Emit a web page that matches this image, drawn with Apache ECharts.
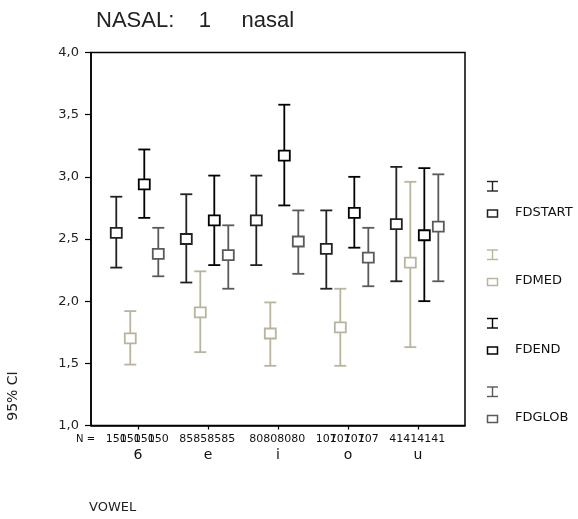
<!DOCTYPE html>
<html>
<head>
<meta charset="utf-8">
<script src="https://cdn.jsdelivr.net/npm/echarts@6/dist/echarts.min.js"></script>
<style>
html,body{margin:0;padding:0;background:#fff;}
#chart{width:578px;height:519px;}
</style>
</head>
<body>
<div id="chart"></div>
<script>
// ---- data ----
const categories = ['6', 'e', 'i', 'o', 'u'];
const seriesNames = ['FDSTART', 'FDMED', 'FDEND', 'FDGLOB'];

const fdstartMean = [2.55, 2.50, 2.65, 2.42, 2.62];
const fdstartLow  = [2.27, 2.15, 2.29, 2.10, 2.16];
const fdstartHigh = [2.84, 2.86, 3.01, 2.73, 3.08];

const fdmedMean = [1.70, 1.91, 1.74, 1.79, 2.31];
const fdmedLow  = [1.49, 1.59, 1.48, 1.48, 1.63];
const fdmedHigh = [1.92, 2.24, 1.99, 2.10, 2.96];

const fdendMean = [2.94, 2.65, 3.17, 2.71, 2.53];
const fdendLow  = [2.67, 2.29, 2.77, 2.43, 2.00];
const fdendHigh = [3.22, 3.01, 3.58, 3.00, 3.07];

const fdglobMean = [2.38, 2.37, 2.48, 2.35, 2.60];
const fdglobLow  = [2.20, 2.10, 2.22, 2.12, 2.16];
const fdglobHigh = [2.59, 2.61, 2.73, 2.59, 3.02];

const nCounts = [150, 85, 80, 107, 41];

// ---- styling / layout ----
const seriesColors = ['#222222', '#b8b49e', '#000000', '#5a5a5a'];
const seriesOffsets = [-0.31, -0.11, 0.09, 0.29];
const FONT = 'DejaVu Sans';

const means = [fdstartMean, fdmedMean, fdendMean, fdglobMean];
const lows = [fdstartLow, fdmedLow, fdendLow, fdglobLow];
const highs = [fdstartHigh, fdmedHigh, fdendHigh, fdglobHigh];

function renderItem(params, api) {
  const x = api.value(0), mean = api.value(1), lo = api.value(2), hi = api.value(3), n = api.value(4);
  const pm = api.coord([x, mean]);
  const pl = api.coord([x, lo]);
  const ph = api.coord([x, hi]);
  const pb = api.coord([x, 1]);
  const color = api.visual('color');
  const lw = 1.8, cap = 6, hw = 5.5, hh = 5;
  return {
    type: 'group',
    children: [
      { type: 'line', shape: { x1: pm[0], y1: ph[1], x2: pm[0], y2: pl[1] }, style: { stroke: color, lineWidth: lw } },
      { type: 'line', shape: { x1: pm[0] - cap, y1: ph[1], x2: pm[0] + cap, y2: ph[1] }, style: { stroke: color, lineWidth: lw } },
      { type: 'line', shape: { x1: pm[0] - cap, y1: pl[1], x2: pm[0] + cap, y2: pl[1] }, style: { stroke: color, lineWidth: lw } },
      { type: 'rect', shape: { x: pm[0] - hw, y: pm[1] - hh, width: hw * 2, height: hh * 2 }, style: { fill: '#fff', stroke: color, lineWidth: lw } },
      { type: 'text', x: pm[0], y: pb[1] + 14, style: { text: String(n), fill: '#111', font: '11px "' + FONT + '"', align: 'center', verticalAlign: 'middle' } }
    ]
  };
}

const series = seriesNames.map((name, s) => ({
  name: name,
  type: 'custom',
  renderItem: renderItem,
  color: seriesColors[s],
  itemStyle: { color: seriesColors[s] },
  clip: false,
  encode: { x: 0, y: [1, 2, 3] },
  data: categories.map((c, i) => [i + seriesOffsets[s], means[s][i], lows[s][i], highs[s][i], nCounts[i]]),
  silent: true
}));

// legend (drawn as graphic: I-beam + square + name, per series)
const legendGraphics = [];
seriesNames.forEach((name, s) => {
  const c = seriesColors[s];
  const y0 = 181.5 + s * 68.5;
  legendGraphics.push(
    { type: 'line', shape: { x1: 487, y1: y0, x2: 498, y2: y0 }, style: { stroke: c, lineWidth: 1.4 } },
    { type: 'line', shape: { x1: 492.5, y1: y0, x2: 492.5, y2: y0 + 9.5 }, style: { stroke: c, lineWidth: 1.4 } },
    { type: 'line', shape: { x1: 487, y1: y0 + 9.5, x2: 498, y2: y0 + 9.5 }, style: { stroke: c, lineWidth: 1.4 } },
    { type: 'rect', shape: { x: 487.5, y: y0 + 28.5, width: 10, height: 7 }, style: { fill: '#fff', stroke: c, lineWidth: 1.5 } },
    { type: 'text', x: 515, y: y0 + 31, style: { text: name, font: '13px "' + FONT + '"', fill: '#111', align: 'left', verticalAlign: 'middle' } }
  );
});

const chart = echarts.init(document.getElementById('chart'), null, { renderer: 'canvas' });
chart.setOption({
  animation: false,
  backgroundColor: '#fff',
  title: {
    text: 'NASAL:    1     nasal',
    left: 91, top: 5,
    textStyle: { fontFamily: 'Liberation Sans', fontSize: 22, fontWeight: 'normal', color: '#222' }
  },
  grid: { left: 91, right: 113, top: 52.5, bottom: 93.5, show: true, borderColor: '#000', borderWidth: 1.5, backgroundColor: 'transparent' },
  xAxis: {
    type: 'value', min: -0.671, max: 4.671,
    splitLine: { show: false },
    axisLine: { show: true, onZero: false, lineStyle: { color: '#000', width: 1.5 } },
    axisTick: { show: true, customValues: [0, 1, 2, 3, 4], length: 4, inside: false, lineStyle: { color: '#000', width: 1.2 } },
    axisLabel: { customValues: [0, 1, 2, 3, 4], formatter: v => categories[Math.round(v)], margin: 23,
      fontFamily: FONT, fontSize: 14, color: '#111' }
  },
  yAxis: {
    type: 'value', min: 1, max: 4, interval: 0.5,
    splitLine: { show: false },
    axisLine: { show: true, onZero: false, lineStyle: { color: '#000', width: 1.5 } },
    axisTick: { show: true, length: 6, lineStyle: { color: '#000', width: 1.2 } },
    axisLabel: { formatter: v => v.toFixed(1).replace('.', ','), margin: 12, fontFamily: FONT, fontSize: 13, color: '#222' }
  },
  graphic: [
    { type: 'text', x: 13.5, y: 396, rotation: Math.PI / 2, style: { text: '95% CI', font: '14px "' + FONT + '"', fill: '#222', align: 'center', verticalAlign: 'middle' } },
    { type: 'text', x: 89, y: 508, style: { text: 'VOWEL', font: '13px "' + FONT + '"', fill: '#222', align: 'left', verticalAlign: 'middle' } },
    { type: 'text', x: 76, y: 439.5, style: { text: 'N =', font: '10px "' + FONT + '"', fill: '#111', align: 'left', verticalAlign: 'middle' } }
  ].concat(legendGraphics),
  series: series
});
</script>
</body>
</html>
